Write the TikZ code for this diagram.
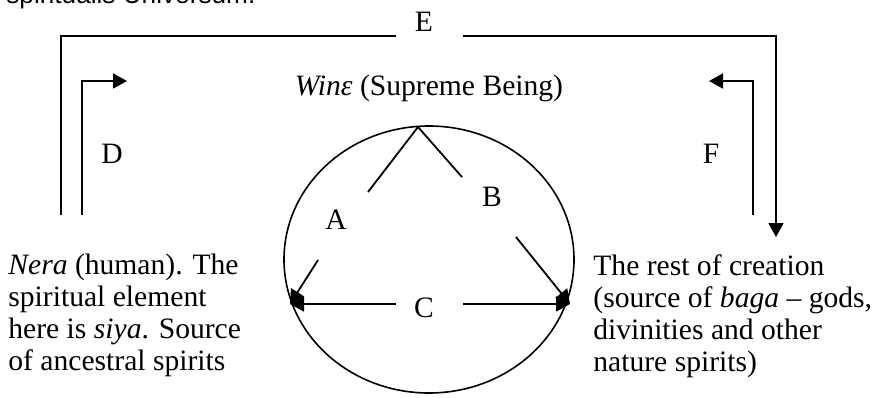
\documentclass[tikz,border=0pt]{standalone}
\usepackage{fontspec}
\setmainfont{Liberation Serif}
\setsansfont{Liberation Sans}
\usepackage{tikz}
\usetikzlibrary{arrows.meta, positioning, calc, shapes.geometric}
\tikzset{
  % plain connector lines
  flow/.style={line width=0.9pt, draw=black},
  % connector with a filled head
  tipflow/.style={flow, -{Triangle[length=7pt, width=7.5pt]}},
  % single letters on the connectors
  letter/.style={font=\fontsize{14.8}{16}\selectfont, inner sep=0pt},
  % text blocks at the corners
  bodytext/.style={font=\fontsize{14.8}{16}\selectfont, align=left,
    inner sep=0pt, anchor=north west},
}

\begin{document}
\begin{tikzpicture}[x=0.5pt, y=-0.5pt]
  \useasboundingbox (0,0) rectangle (878,397);

  % cut-off caption line above
  \node[font=\sffamily\fontsize{13.1}{15}\selectfont, anchor=base west, inner sep=0pt]
    (caption) at (6,3) {spiritualis Universum.};

  % Supreme Being
  \node[letter, anchor=base] (wine) at (429,95) {\textit{Winε} (Supreme Being)};

  % circle of creation
  \node[draw, line width=0.8pt, ellipse, minimum width=145pt, minimum height=133.5pt, inner sep=0pt]
    (world) at (429,259.5) {};
  \coordinate (apex) at (418,127);
  \coordinate (left) at (290,304);
  \coordinate (right) at (570,304);

  % corner texts
  \node[bodytext] (nera) at (8,254)
    {\textit{Nera} (human). The\\spiritual element\\here is \textit{siya}. Source\\of ancestral spirits};
  \node[bodytext] (rest) at (593,254)
    {The rest of creation\\(source of \textit{baga} -- gods,\\divinities and other\\nature spirits)};

  % letters
  \node[letter] (A) at (336,220) {A};
  \node[letter] (B) at (492,197) {B};
  \node[letter] (C) at (424,308) {C};
  \node[letter] (D) at (112,154) {D};
  \node[letter] (E) at (424,22) {E};
  \node[letter] (F) at (711,154) {F};

  % gap ends around the letters
  \coordinate (a1) at (368,192);
  \coordinate (a2) at (318,260);
  \coordinate (b1) at (462,177);
  \coordinate (b2) at (516,237);
  \coordinate (c1) at (396,304);
  \coordinate (c2) at (463,304);
  \coordinate (e1) at (396,36);
  \coordinate (e2) at (463,36);

  % A, B and C
  \draw[flow] (apex) -- (a1);
  \draw[tipflow] (a2) -- (left);
  \draw[flow] (apex) -- (b1);
  \draw[tipflow] (b2) -- (right);
  \draw[tipflow] (c1) -- (left);
  \draw[tipflow] (c2) -- (right);

  % E, the outer loop
  \draw[flow] (e1) -- (61,36) -- (61,215);
  \draw[tipflow] (e2) -- (776,36) -- (776,237);

  % D and F
  \draw[tipflow] (82,215) -- (82,81) -- (127,81);
  \draw[tipflow] (753,215) -- (753,81) -- (709,81);
\end{tikzpicture}
\end{document}
